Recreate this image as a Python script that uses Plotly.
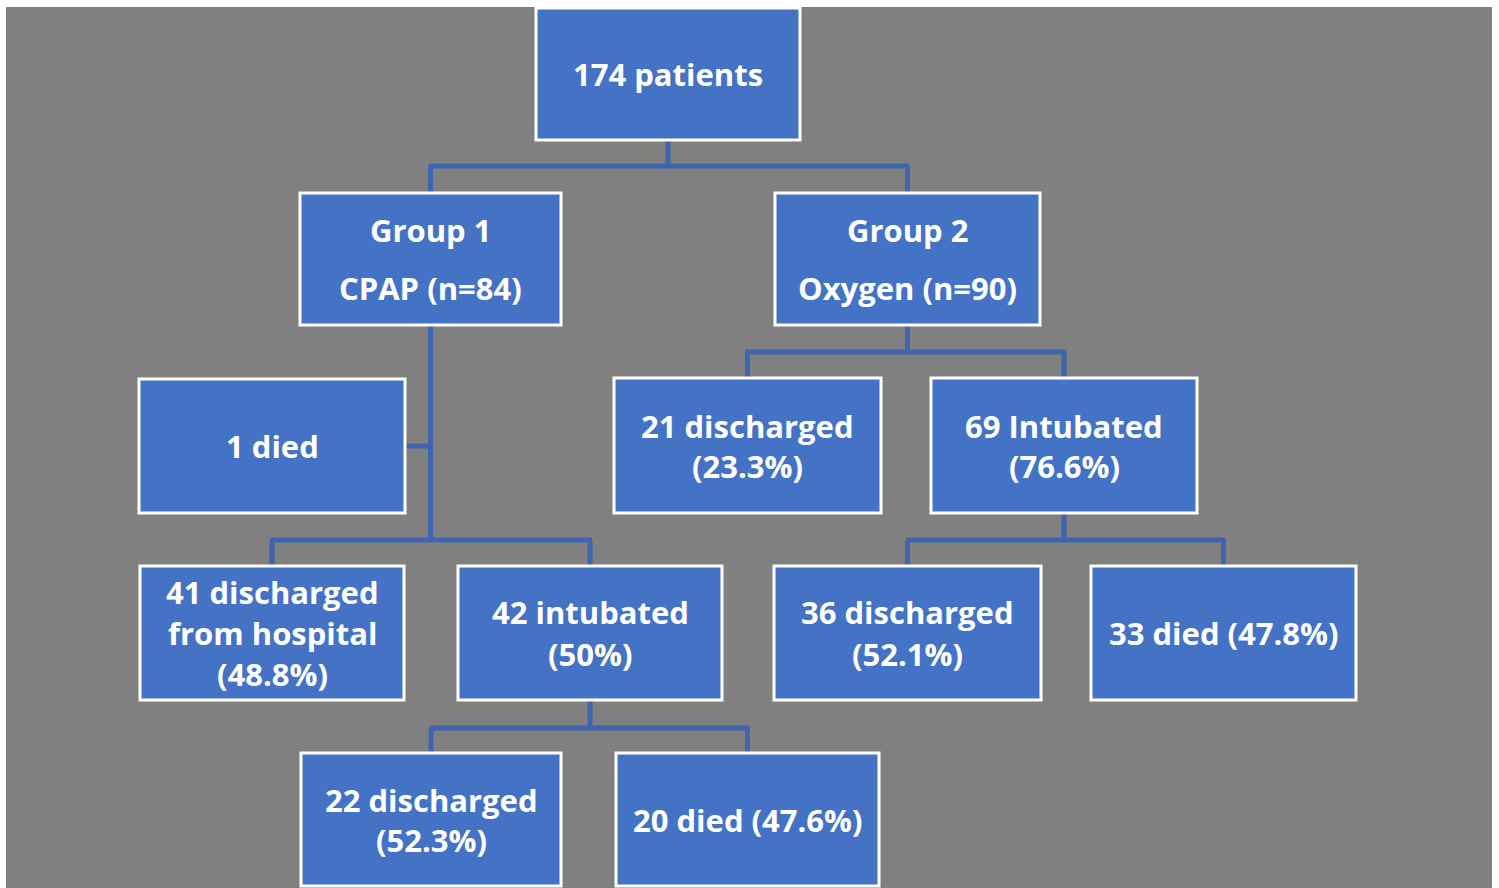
import plotly.graph_objects as go

# ---- data: node texts (lines) and tree structure ----
node_ids = ["root", "g1", "g2", "g1_died", "g2_dis", "g2_int",
            "g1_dis", "g1_int", "g2_int_dis", "g2_int_died",
            "g1_int_dis", "g1_int_died"]
node_lines = [
    ["174 patients"],
    ["Group 1", "CPAP (n=84)"],
    ["Group 2", "Oxygen (n=90)"],
    ["1 died"],
    ["21 discharged", "(23.3%)"],
    ["69 Intubated", "(76.6%)"],
    ["41 discharged", "from hospital", "(48.8%)"],
    ["42 intubated", "(50%)"],
    ["36 discharged", "(52.1%)"],
    ["33 died (47.8%)"],
    ["22 discharged", "(52.3%)"],
    ["20 died (47.6%)"],
]

# ---- layout geometry (pixels): x0, x1, y0, y1 per box ----
box_x0 = [536, 300, 775, 139, 614, 931, 140, 458, 774, 1091, 301, 616]
box_x1 = [800, 561, 1040, 405, 881, 1197, 404, 722, 1041, 1356, 561, 879]
box_y0 = [8, 193, 193, 379, 378, 378, 566, 566, 566, 566, 753, 753]
box_y1 = [140, 325, 325, 513, 513, 513, 700, 700, 700, 700, 886, 886]
line_gap = [0, 58, 58, 0, 40, 40, 41, 42, 42, 0, 40, 0]

# connectors: (parent, [children], bus y)
connectors = [
    ("root", ["g1", "g2"], 166),
    ("g2", ["g2_dis", "g2_int"], 352),
    ("g1", ["g1_dis", "g1_int"], 540),
    ("g2_int", ["g2_int_dis", "g2_int_died"], 540),
    ("g1_int", ["g1_int_dis", "g1_int_died"], 728),
]
side_branch = ("g1", "g1_died", 446)

BG = "#808080"
FILL = "#4472C4"
LINE = "#3F65B0"
W, H = 1499, 888

idx = {n: i for i, n in enumerate(node_ids)}
cx = lambda n: (box_x0[idx[n]] + box_x1[idx[n]]) / 2

fig = go.Figure()
shapes = []
# gray background panel
shapes.append(dict(type="rect", x0=6, x1=1492, y0=7, y1=888, xref="x", yref="y",
                   fillcolor=BG, line=dict(width=0), layer="below"))

# connector lines
lw = 5
for parent, kids, ybus in connectors:
    px = cx(parent)
    py = box_y1[idx[parent]]
    kxs = [cx(k) for k in kids]
    shapes.append(dict(type="line", x0=px, x1=px, y0=py, y1=ybus,
                       line=dict(color=LINE, width=lw), layer="below"))
    shapes.append(dict(type="line", x0=min(kxs + [px]) - 2, x1=max(kxs + [px]) + 2,
                       y0=ybus, y1=ybus, line=dict(color=LINE, width=lw), layer="below"))
    for k, kx in zip(kids, kxs):
        shapes.append(dict(type="line", x0=kx, x1=kx, y0=ybus, y1=box_y0[idx[k]],
                           line=dict(color=LINE, width=lw), layer="below"))
p, c, yb = side_branch
shapes.append(dict(type="line", x0=box_x1[idx[c]], x1=cx(p), y0=yb, y1=yb,
                   line=dict(color=LINE, width=lw), layer="below"))

# boxes
for i, n in enumerate(node_ids):
    shapes.append(dict(type="rect", x0=box_x0[i], x1=box_x1[i], y0=box_y0[i], y1=box_y1[i],
                       fillcolor=FILL, line=dict(color="white", width=3)))

annotations = []
for i, n in enumerate(node_ids):
    lines = node_lines[i]
    ycen = (box_y0[i] + box_y1[i]) / 2
    k = len(lines)
    for j, t in enumerate(lines):
        y = ycen + (j - (k - 1) / 2) * line_gap[i]
        annotations.append(dict(x=cx(n), y=y, xref="x", yref="y", text=t,
                                showarrow=False, xanchor="center", yanchor="middle",
                                font=dict(family="Open Sans", size=31, color="white",
                                          weight="bold")))

fig.update_layout(
    width=W, height=H,
    margin=dict(l=0, r=0, t=0, b=0),
    paper_bgcolor="white", plot_bgcolor="white",
    xaxis=dict(range=[0, W], visible=False, fixedrange=True),
    yaxis=dict(range=[H, 0], visible=False, fixedrange=True),
    shapes=shapes, annotations=annotations, showlegend=False,
)
fig.write_html("out.html", config={"displayModeBar": False},
               post_script="document.body.style.margin='0';document.body.style.overflow='hidden';")
